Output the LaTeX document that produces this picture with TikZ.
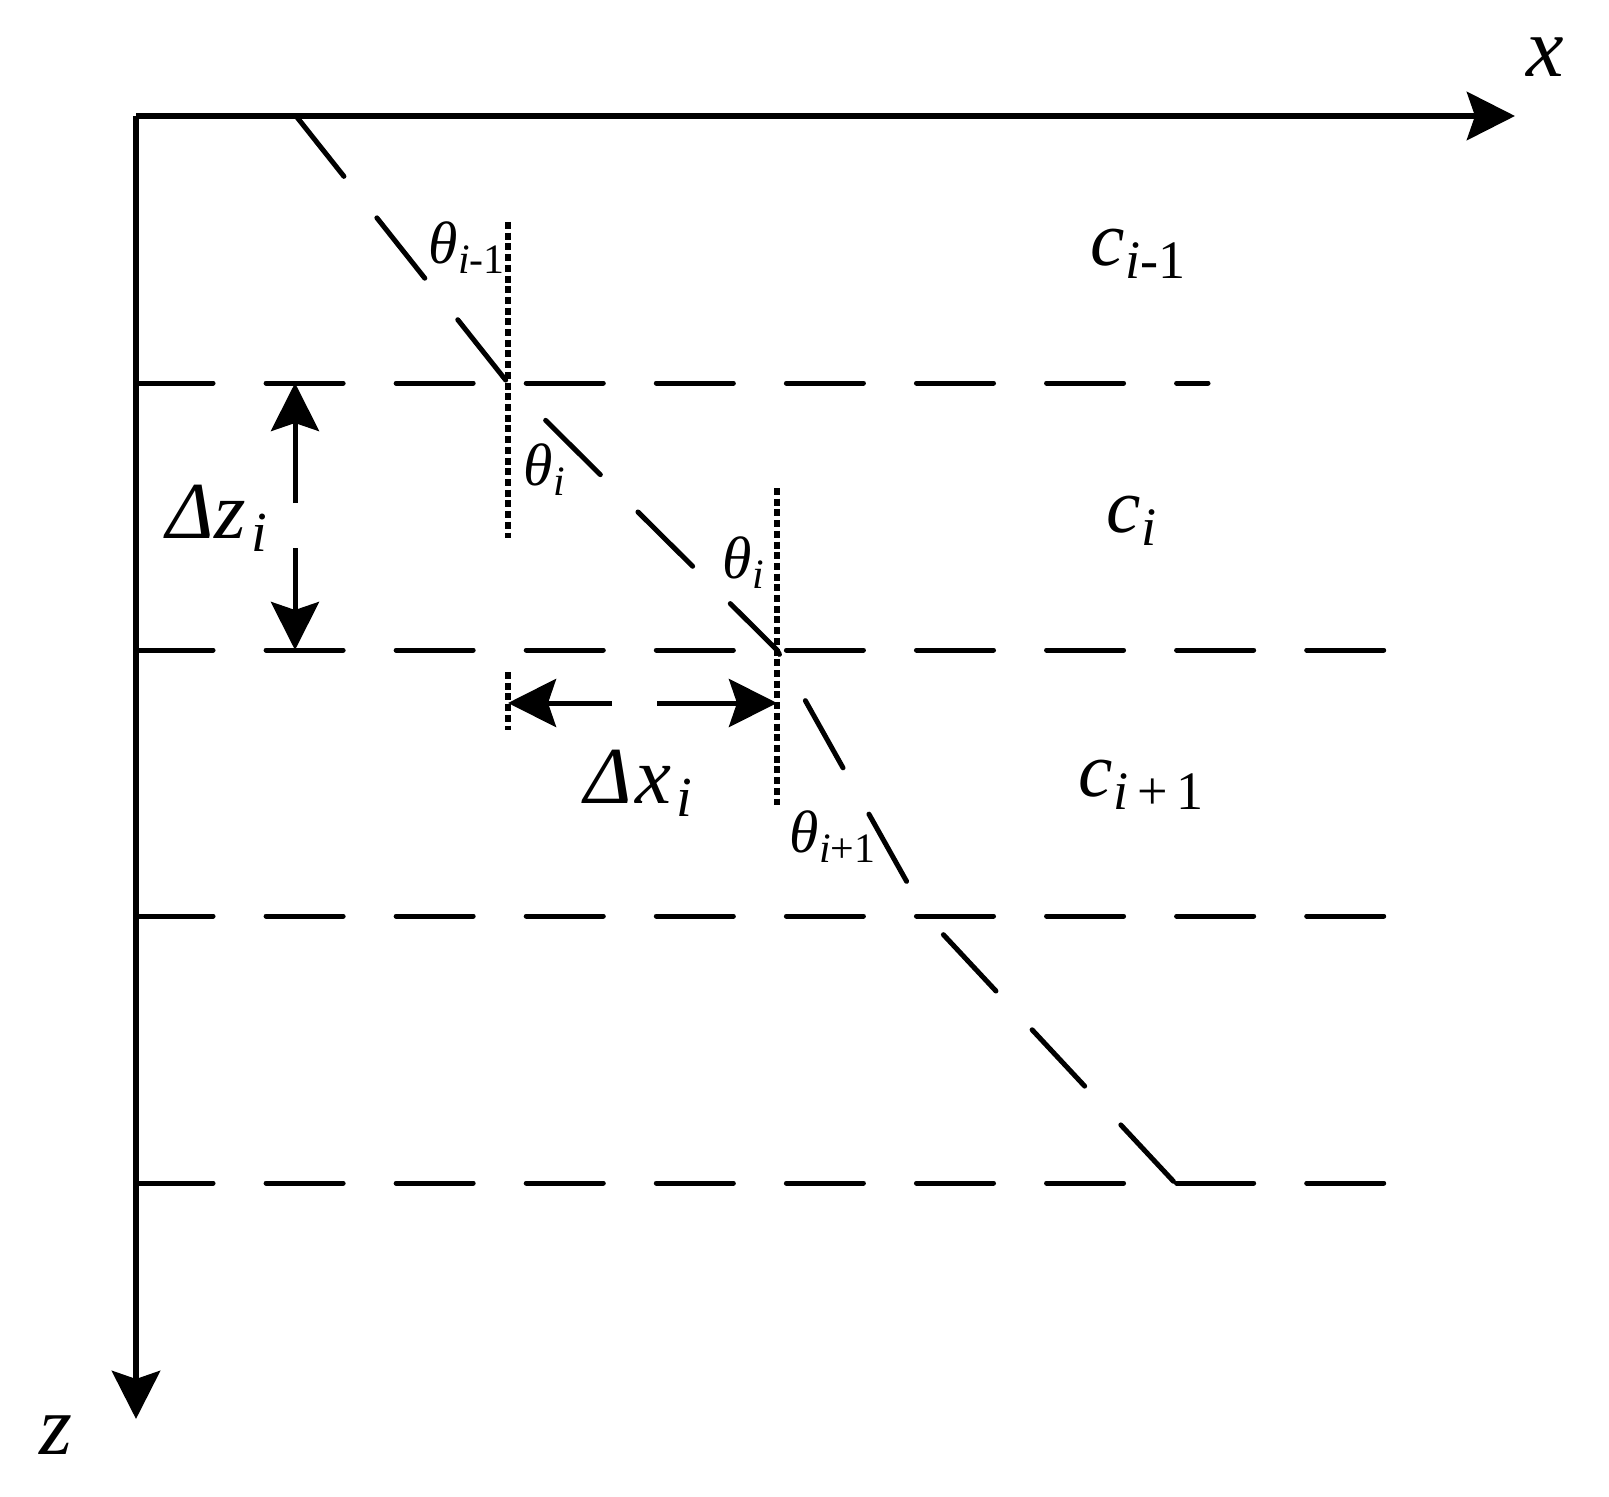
\documentclass[tikz,border=0pt]{standalone}
\usepackage{fontspec}
\setmainfont{Liberation Serif}[ItalicFont={Liberation Serif Italic}]
\usepackage{graphicx}
\usetikzlibrary{arrows.meta}
\newcommand{\low}[1]{\raisebox{-0.17em}{\scalebox{0.7}{#1}}}

\begin{document}
\begin{tikzpicture}[x=0.01cm, y=-0.01cm,
    axis/.style={line width=0.065cm, -{Stealth[length=0.48cm, width=0.48cm, inset=0.08cm]}},
    arr/.style={line width=0.05cm, -{Stealth[length=0.48cm, width=0.48cm, inset=0.08cm]}},
    layer/.style={line width=0.05cm, line cap=round, dash pattern=on 0.77cm off 0.53cm},
    ray/.style={layer, dash phase=#1},
    normal/.style={line width=0.055cm, dash pattern=on 0.07cm off 0.037cm},
    big/.style={inner sep=0, anchor=base west, font=\fontsize{22pt}{26pt}\selectfont\itshape},
    delta/.style={big, font=\fontsize{23pt}{27pt}\selectfont\itshape},
    ang/.style={inner sep=0, anchor=base west, font=\fontsize{17pt}{20pt}\selectfont\itshape},
    axlab/.style={inner sep=0, anchor=base west, font=\fontsize{24pt}{28pt}\selectfont\itshape}]
    \useasboundingbox (0,0) rectangle (1609,1497);

    \coordinate (O) at (136,116);
    \coordinate (xend) at (1515,116);
    \coordinate (zend) at (136,1419);
    \draw[axis] (O) -- (xend);
    \draw[axis] (O) -- (zend);
    \node[axlab] (xlab) at (1526,77) {x};
    \node[axlab] (zlab) at (39,1454) {z};

    \coordinate (L1a) at (136,383);
    \coordinate (L1b) at (1208,383);
    \coordinate (L2a) at (136,650);
    \coordinate (L2b) at (1390,650);
    \coordinate (L3a) at (136,916);
    \coordinate (L3b) at (1390,916);
    \coordinate (L4a) at (136,1183);
    \coordinate (L4b) at (1390,1183);
    \draw[layer] (L1a) -- (L1b);
    \draw[layer] (L2a) -- (L2b);
    \draw[layer] (L3a) -- (L3b);
    \draw[layer] (L4a) -- (L4b);

    \coordinate (P0) at (296,116);
    \coordinate (P1) at (508,383);
    \coordinate (P2) at (777,650);
    \coordinate (P3) at (926,916);
    \coordinate (P4) at (1175,1183);
    \draw[layer] (P0) -- (P1);
    \draw[ray=0.77cm] (P1) -- (P2);
    \draw[ray=0.72cm] (P2) -- (P3);
    \draw[ray=1.045cm] (P3) -- (P4);

    \coordinate (N1a) at (508,222);
    \coordinate (N1b) at (508,538);
    \coordinate (N2a) at (777,488);
    \coordinate (N2b) at (777,805);
    \coordinate (N3a) at (508,672);
    \coordinate (N3b) at (508,730);
    \draw[normal] (N1a) -- (N1b);
    \draw[normal] (N2a) -- (N2b);
    \draw[normal] (N3a) -- (N3b);

    \coordinate (dzT) at (295,383);
    \coordinate (dzA) at (295,503);
    \coordinate (dzB) at (295,548);
    \coordinate (dzD) at (295,650);
    \draw[arr] (dzA) -- (dzT);
    \draw[arr] (dzB) -- (dzD);
    \node[delta] (dz) at (166,538) {Δz\kern0.07em\low{i}};

    \coordinate (dxL) at (508,703);
    \coordinate (dxA) at (612,703);
    \coordinate (dxB) at (657,703);
    \coordinate (dxR) at (777,703);
    \draw[arr] (dxA) -- (dxL);
    \draw[arr] (dxB) -- (dxR);
    \node[delta] (dx) at (584,803) {Δ\kern0.04em x\kern0.07em\low{i}};

    \node[ang] (t1) at (428,263) {θ\low{i\upshape -1}};
    \node[ang] (t2) at (523,485) {θ\low{i}};
    \node[ang] (t3) at (722,578) {θ\low{i}};
    \node[ang] (t4) at (789,852) {θ\low{i\upshape +1}};

    \node[big] (c1) at (1090,265) {c\low{i\upshape -1}};
    \node[big] (c2) at (1106,532) {c\low{i}};
    \node[big] (c3) at (1078,796) {c\low{i\,\upshape +\,1}};
\end{tikzpicture}
\end{document}
